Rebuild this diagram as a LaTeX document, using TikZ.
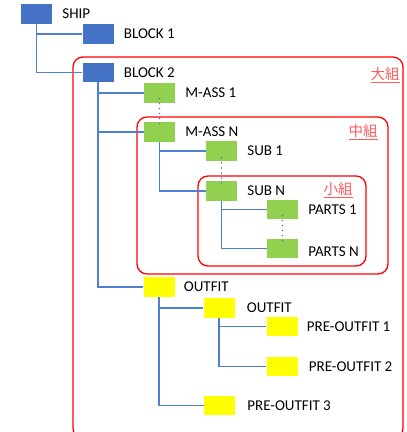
\documentclass[tikz,border=0pt]{standalone}
\usepackage{fontspec}
\setmainfont{Carlito}
\newfontfamily\cjkfont{Noto Sans CJK JP}
\usepackage{tikz}
\usetikzlibrary{positioning}
\usepackage{xcolor}
\definecolor{shipblue}{HTML}{4472C4}
\definecolor{linkblue}{HTML}{4F7FD0}
\definecolor{assgreen}{HTML}{92D050}
\definecolor{fityellow}{HTML}{FFFF00}
\definecolor{grpred}{HTML}{FF0000}
\definecolor{grptext}{HTML}{FF5B5B}

\tikzset{
  box/.style={minimum width=31pt, minimum height=19.5pt, inner sep=0pt},
  bluebox/.style={box, fill=shipblue},
  greenbox/.style={box, fill=assgreen},
  yellowbox/.style={box, fill=fityellow},
  partname/.style={font=\fontsize{15}{17}\selectfont, inner sep=0pt, anchor=west},
  link/.style={linkblue, line width=1.3pt},
  vdot/.style={linkblue, line width=1.6pt, dash pattern=on 0pt off 5pt, line cap=round},
  group/.style={grpred, line width=1.3pt, rounded corners=10pt},
  grplabel/.style={grptext, font=\cjkfont\fontsize{14.5}{16}\selectfont, inner sep=0pt}
}

\begin{document}
\begin{tikzpicture}[x=1pt, y=-1pt]
	
	\useasboundingbox (0,0) rectangle (407,432);
	\clip (0,0) rectangle (407,432);
	
	% group frames
	\draw[group] (73,57) rectangle (403,438);
	\draw[group] (137,117) rectangle (388,274);
	\draw[group] (198,176) rectangle (366,266);
	\node[grplabel] (big) at (385,75) {\underline{大組}};
	\node[grplabel] (mid) at (363,132) {\underline{中組}};
	\node[grplabel] (small) at (338,190) {\underline{小組}};
	
	% blocks
	\node[bluebox] (ship) at (36.5,14) {};
	\node[bluebox] (blk1) at (98,34) {};
	\node[bluebox] (blk2) at (98,72.5) {};
	
	% assemblies
	\node[greenbox] (mass1) at (159.5,93) {};
	\node[greenbox] (massn) at (159.5,132) {};
	\node[greenbox] (sub1) at (221.5,151) {};
	\node[greenbox] (subn) at (221.5,191) {};
	\node[greenbox] (parts1) at (282.5,209.5) {};
	\node[greenbox] (partsn) at (282.5,248.5) {};
	
	% outfitting
	\node[yellowbox] (fit) at (159,287) {};
	\node[yellowbox] (fit2) at (219,308) {};
	\node[yellowbox] (pre1) at (282,326.5) {};
	\node[yellowbox] (pre2) at (282,366.5) {};
	\node[yellowbox] (pre3) at (219.5,405.5) {};
	
	% names
	\node[partname, right=10pt of ship] (tship) {SHIP};
	\node[partname, right=10pt of blk1] (tblk1) {BLOCK 1};
	\node[partname, right=10pt of blk2] (tblk2) {BLOCK 2};
	\node[partname, right=10pt of mass1] (tmass1) {M-ASS 1};
	\node[partname, right=10pt of massn] (tmassn) {M-ASS N};
	\node[partname, right=10pt of sub1] (tsub1) {SUB 1};
	\node[partname, right=10pt of subn] (tsubn) {SUB N};
	\node[partname, right=10pt of parts1] (tparts1) {PARTS 1};
	\node[partname, right=10pt of partsn, yshift=-3pt] (tpartsn) {PARTS N};
	\node[partname, right=9pt of fit] (tfit) {OUTFIT};
	\node[partname, right=12pt of fit2] (tfit2) {OUTFIT};
	\node[partname, right=9pt of pre1] (tpre1) {PRE-OUTFIT 1};
	\node[partname, right=11pt of pre2] (tpre2) {PRE-OUTFIT 2};
	\node[partname, right=12pt of pre3] (tpre3) {PRE-OUTFIT 3};
	
	% tree links
	\draw[link] (ship.south) |- (blk1.west);
	\draw[link] (ship.south) |- (blk2.west);
	\draw[link] (blk2.south) |- (mass1.west);
	\draw[link] (blk2.south) |- (massn.west);
	\draw[link] (blk2.south) |- (fit.west);
	\draw[link] (massn.south) |- (sub1.west);
	\draw[link] (massn.south) |- (subn.west);
	\draw[link] (subn.south) |- (parts1.west);
	\draw[link] (subn.south) |- (partsn.west);
	\draw[link] (fit.south) |- (fit2.west);
	\draw[link] (fit.south) |- (pre3.west);
	\draw[link] (fit2.south) |- (pre1.west);
	\draw[link] (fit2.south) |- (pre2.west);
	
	% omitted items
	\draw[vdot] ([yshift=4.5pt]mass1.south) -- ([yshift=-4.5pt]massn.north);
	\draw[vdot] ([yshift=3pt]sub1.south) -- ([yshift=-6pt]subn.north);
	\draw[vdot] ([yshift=4pt]parts1.south) -- ([yshift=-5pt]partsn.north);
	
\end{tikzpicture}
\end{document}
